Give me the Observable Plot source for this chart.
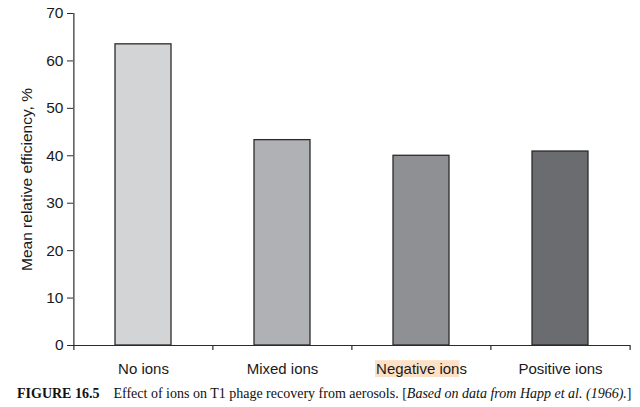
<!DOCTYPE html>
<html>
<head>
<meta charset="utf-8">
<script src="https://cdn.jsdelivr.net/npm/d3@7"></script>
<script src="https://cdn.jsdelivr.net/npm/@observablehq/plot@0.6"></script>
<style>
  html, body { margin: 0; padding: 0; background: #fff; }
  #caption { font-family: "Liberation Serif", "Times New Roman", serif; font-size: 14px; color: #111; margin: 4px 0 0 17px; white-space: nowrap; }
  #caption b { margin-right: 14px; }
</style>
</head>
<body>
<div id="chart"></div>
<div id="caption"><b>FIGURE 16.5</b>Effect of ions on T1 phage recovery from aerosols. [<i>Based on data from Happ et al. (1966).</i>]</div>
<script>
const categories = ["No ions", "Mixed ions", "Negative ions", "Positive ions"];
const values = [63.5, 43.3, 40.0, 40.9];
const barColors = ["#d3d4d6", "#b0b1b4", "#8f9094", "#6b6c70"];
const yTicks = [0, 10, 20, 30, 40, 50, 60, 70];
const highlighted = "Negative ions";

const data = categories.map((c, i) => ({category: c, value: values[i]}));

const width = 640, height = 382;
const marginLeft = 73, marginRight = 10, marginTop = 13, marginBottom = 37;
const step = (width - marginLeft - marginRight) / categories.length;
const plotH = height - marginTop - marginBottom;
const ink = "#2b2b2b";

const chart = Plot.plot({
  width, height, marginLeft, marginRight, marginTop, marginBottom,
  style: {fontFamily: "'Liberation Sans', Arial, sans-serif", fontSize: "15px", color: "#1a1a1a", background: "#fff"},
  x: {domain: categories, paddingInner: 0.6, paddingOuter: 0.3, label: null},
  y: {domain: [0, 70], label: null},
  color: {domain: categories, range: barColors},
  marks: [
    Plot.barY(data, {x: "category", y: "value", fill: "category", stroke: ink, strokeWidth: 1.3}),
    Plot.ruleY([0], {stroke: ink, strokeWidth: 1.2}),
    // y axis line at left edge of first band
    Plot.ruleX([categories[0]], {x: d => d, y1: 0, y2: 70, dx: -step / 2, stroke: ink, strokeWidth: 1.2}),
    // band-boundary tick marks below the x axis
    Plot.ruleX(categories, {x: d => d, dx: -step / 2, insetTop: plotH, insetBottom: -5, stroke: ink, strokeWidth: 1.2}),
    Plot.ruleX([categories[categories.length - 1]], {x: d => d, dx: step / 2, insetTop: plotH, insetBottom: -5, stroke: ink, strokeWidth: 1.2}),
    Plot.axisX({tickSize: 0, tickPadding: 18, fontSize: 15, label: null}),
    Plot.axisY({ticks: yTicks, tickSize: 6, tickPadding: 4, fontSize: 15.5, stroke: ink,
      label: "Mean relative efficiency, %", labelAnchor: "center", labelArrow: "none", labelOffset: 53})
  ]
});
document.getElementById("chart").appendChild(chart);

// highlight behind the "Negative ions" label (as in the reference scan)
const svg = chart.tagName.toLowerCase() === "svg" ? chart : chart.querySelector("svg");
svg.querySelectorAll("text").forEach(t => {
  if (t.textContent === highlighted) {
    const bb = t.getBBox();
    const w = t.getSubStringLength(0, highlighted.length - 1);
    const r = document.createElementNS("http://www.w3.org/2000/svg", "rect");
    r.setAttribute("x", bb.x - 1);
    r.setAttribute("y", bb.y);
    r.setAttribute("width", w + 1);
    r.setAttribute("height", bb.height);
    r.setAttribute("fill", "#fde1c6");
    if (t.getAttribute("transform")) r.setAttribute("transform", t.getAttribute("transform"));
    t.parentNode.insertBefore(r, t);
  }
});
</script>
</body>
</html>
